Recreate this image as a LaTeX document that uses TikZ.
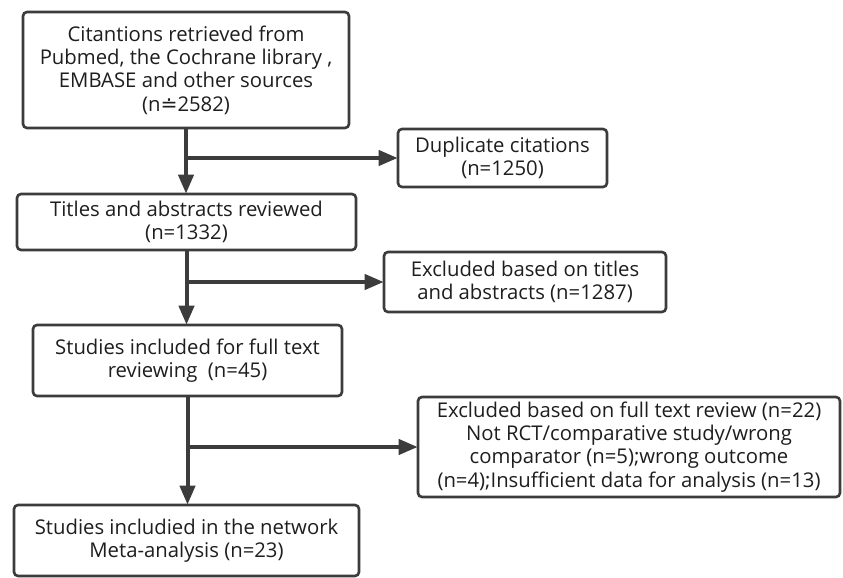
\documentclass[tikz,border=0pt]{standalone}
\usepackage{fontspec}
\setmainfont{Open Sans}
\newfontfamily\symfont{DejaVu Sans}
\usetikzlibrary{arrows.meta,calc}
\definecolor{linec}{HTML}{3C3C3C}
\definecolor{textc}{HTML}{1E1E1E}
\tikzset{
  boxnode/.style={draw=linec, line width=2.6pt, rounded corners=4pt, fill=white,
    text=textc, align=center, inner sep=0pt, font=\fontsize{20.3}{23.3}\selectfont},
  flowline/.style={draw=linec, line width=4pt},
  flowarrow/.style={flowline, -{Triangle[length=19pt,width=15pt]}, shorten >=-1pt},
}
\begin{document}
\begin{tikzpicture}[x=1pt,y=-1pt]
\useasboundingbox (0,0) rectangle (843,578);
% boxes: center and size from pixel measurements
\node[boxnode, minimum width=326pt, minimum height=116pt] (b1) at (186,70)
  {Citantions retrieved from\\Pubmed, the Cochrane library ,\\EMBASE and other sources\\(n{\symfont ≐}2582)};
\node[boxnode, minimum width=209pt, minimum height=58pt] (dup) at (502.5,158)
  {Duplicate citations\\(n=1250)};
\node[boxnode, minimum width=339pt, minimum height=56pt] (tit) at (186.5,222)
  {Titles and abstracts reviewed\\(n=1332)};
\node[boxnode, minimum width=282pt, minimum height=60pt] (ex1) at (525,282)
  {Excluded based on titles\\and abstracts (n=1287)};
\node[boxnode, minimum width=309pt, minimum height=71pt] (stu) at (187.5,360.5)
  {Studies included for full text\\reviewing~~(n=45)};
\node[boxnode, minimum width=422pt, minimum height=100pt] (ex2) at (629,447)
  {Excluded based on full text review (n=22)\\Not RCT/comparative study/wrong\\comparator (n=5);wrong outcome\\(n=4);Insufficient data for analysis (n=13)};
\node[boxnode, minimum width=345pt, minimum height=71pt] (fin) at (186.5,540.5)
  {Studies includied in the network\\Meta-analysis (n=23)};
% connectors
\draw[flowarrow] (b1.south) -- (b1.south |- tit.north);
\draw[flowarrow] (b1.south |- dup.west) -- (dup.west);
\draw[flowarrow] (tit.south) -- (tit.south |- stu.north);
\draw[flowarrow] (tit.south |- ex1.west) -- (ex1.west);
\draw[flowarrow] (stu.south) -- (stu.south |- fin.north);
\draw[flowarrow] (stu.south |- ex2.west) -- (ex2.west);
\end{tikzpicture}
\end{document}
